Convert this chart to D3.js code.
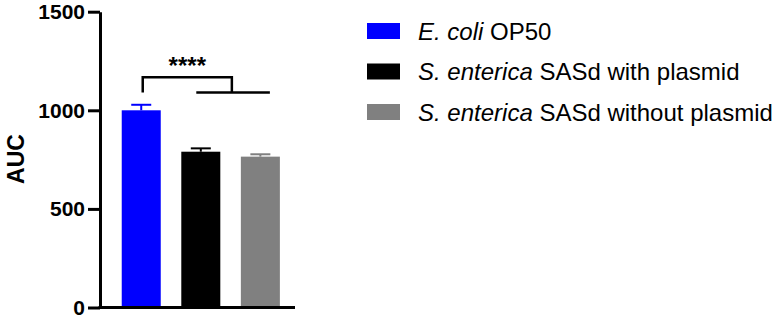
<!DOCTYPE html>
<html>
<head>
<meta charset="utf-8">
<script src="https://cdn.jsdelivr.net/npm/d3@7"></script>
<style>
  body { margin: 0; background: #fff; }
  svg { font-family: "Liberation Sans", Arial, sans-serif; }
</style>
</head>
<body>
<svg width="780" height="319"></svg>
<script>
// data
const groups = ["E. coli OP50", "S. enterica SASd with plasmid", "S. enterica SASd without plasmid"];
const means = [1000, 790, 765];
const errors = [28, 17, 12];
const colors = ["#0000ff", "#000000", "#808080"];
const yTicks = [0, 500, 1000, 1500];
// legend labels: italic part + plain part
const italicPart = ["E. coli", "S. enterica", "S. enterica"];
const plainPart = [" OP50", " SASd with plasmid", " SASd without plasmid"];

const svg = d3.select("svg");

const x = d3.scaleBand()
    .domain(groups)
    .range([111.6, 290])
    .paddingInner(0.345)
    .paddingOuter(0.17);

const y = d3.scaleLinear()
    .domain([0, 1500])
    .range([307.5, 11.7]);

// y axis
const yAxis = svg.append("g")
    .attr("transform", "translate(100,0)")
    .call(d3.axisLeft(y).tickValues(yTicks).tickFormat(d3.format("d"))
        .tickSize(12).tickSizeOuter(0).tickPadding(3));
yAxis.select(".domain").attr("stroke-width", 3);
yAxis.selectAll(".tick line").attr("stroke-width", 3);
yAxis.selectAll(".tick text")
    .attr("font-size", 21)
    .attr("font-weight", "bold")
    .attr("font-family", "Liberation Sans, Arial, sans-serif")
    .attr("fill", "#000");

// x axis line
svg.append("line")
    .attr("x1", 98.5).attr("x2", 295)
    .attr("y1", y(0)).attr("y2", y(0))
    .attr("stroke", "#000").attr("stroke-width", 3);

// bars
svg.selectAll("rect.bar")
    .data(groups)
    .enter()
    .append("rect")
    .attr("class", "bar")
    .attr("x", d => x(d))
    .attr("width", x.bandwidth())
    .attr("y", (d, i) => y(means[i]))
    .attr("height", (d, i) => y(0) - y(means[i]) - 1.5)
    .attr("fill", (d, i) => colors[i]);

// error bars (upper only)
const eb = svg.selectAll("g.err")
    .data(groups)
    .enter()
    .append("g")
    .attr("class", "err")
    .attr("stroke", (d, i) => colors[i])
    .attr("stroke-width", 2);
eb.append("line")
    .attr("x1", d => x(d) + x.bandwidth() / 2)
    .attr("x2", d => x(d) + x.bandwidth() / 2)
    .attr("y1", (d, i) => y(means[i]))
    .attr("y2", (d, i) => y(means[i] + errors[i]));
eb.append("line")
    .attr("x1", d => x(d) + x.bandwidth() / 2 - 10)
    .attr("x2", d => x(d) + x.bandwidth() / 2 + 10)
    .attr("y1", (d, i) => y(means[i] + errors[i]))
    .attr("y2", (d, i) => y(means[i] + errors[i]));

// significance bracket
const bx1 = x(groups[0]) + x.bandwidth() / 2 + 1.5;
const bx2 = x(groups[2]) - 9;
const by1 = y(1167);
const by2 = y(1090);
svg.append("path")
    .attr("d", `M${bx1},${by2}V${by1}H${bx2}V${by2}`)
    .attr("fill", "none").attr("stroke", "#000").attr("stroke-width", 2.5);
svg.append("line")
    .attr("x1", x(groups[1]) + 15).attr("x2", x(groups[2]) + x.bandwidth() - 10)
    .attr("y1", by2).attr("y2", by2)
    .attr("stroke", "#000").attr("stroke-width", 2.5);
svg.append("text")
    .attr("x", (bx1 + bx2) / 2)
    .attr("y", 74)
    .attr("text-anchor", "middle")
    .attr("font-size", 24)
    .attr("font-weight", "bold")
    .text("****");

// y label
svg.append("text")
    .attr("transform", "translate(23.5,159) rotate(-90)")
    .attr("text-anchor", "middle")
    .attr("font-size", 23)
    .attr("font-weight", "bold")
    .text("AUC");

// legend
const legendY = d3.scaleLinear().domain([0, 2]).range([31, 112]);
const lg = svg.selectAll("g.legend")
    .data(groups)
    .enter()
    .append("g")
    .attr("class", "legend")
    .attr("transform", (d, i) => `translate(367,${legendY(i)})`);
lg.append("rect")
    .attr("x", 0).attr("y", -8)
    .attr("width", 33).attr("height", 16)
    .attr("fill", (d, i) => colors[i]);
const lt = lg.append("text")
    .attr("x", 51).attr("y", 8.5)
    .attr("font-size", 24);
lt.append("tspan").attr("font-style", "italic").text((d, i) => italicPart[i]);
lt.append("tspan").text((d, i) => plainPart[i]);
</script>
</body>
</html>
